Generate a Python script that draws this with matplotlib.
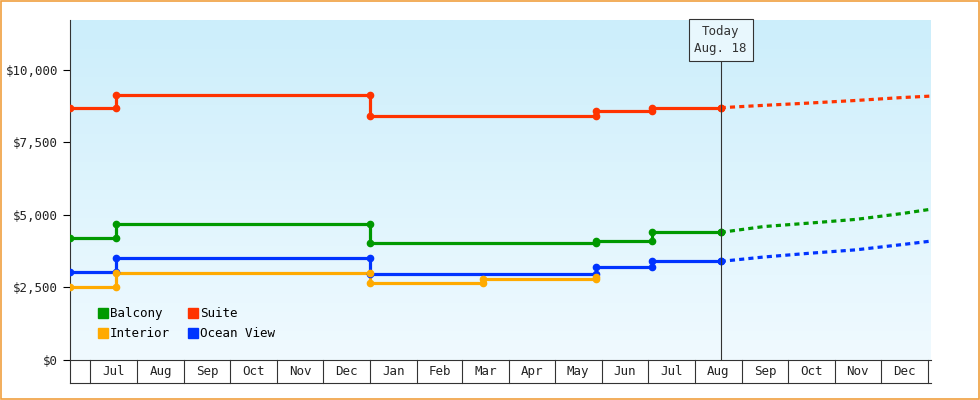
import matplotlib
matplotlib.use("Agg")
import matplotlib.pyplot as plt
import matplotlib.dates as mdates
import numpy as np

# step change dates (actual) and values
step_dates = ["2023-06-18", "2023-07-18", "2024-01-01", "2024-05-28", "2024-07-04", "2024-08-18"]
suite    = [8700, 9150, 8420, 8600, 8700, 8700]
balcony  = [4200, 4700, 4020, 4120, 4400, 4400]
ocean    = [3050, 3500, 2950, 3200, 3400, 3400]
interior_dates = ["2023-06-18", "2023-07-18", "2024-01-01", "2024-03-15", "2024-05-28"]
interior = [2500, 3000, 2650, 2800, 2850]
# forecast
fc_dates = ["2024-08-18", "2024-09-15", "2024-10-15", "2024-11-15", "2024-12-15", "2025-01-03"]
suite_fc   = [8700, 8780, 8860, 8950, 9050, 9100]
balcony_fc = [4400, 4600, 4720, 4850, 5050, 5200]
ocean_fc   = [3400, 3550, 3680, 3800, 3980, 4100]
month_labels = ["Jul","Aug","Sep","Oct","Nov","Dec","Jan","Feb","Mar","Apr","May","Jun","Jul","Aug","Sep","Oct","Nov","Dec"]
today = "2024-08-18"

colors = {"Suite": "#ff3300", "Balcony": "#009900", "Ocean View": "#0033ff", "Interior": "#ffaa00"}
mono = "DejaVu Sans Mono"
fs = 9

def d(s): return mdates.date2num(np.datetime64(s))

fig = plt.figure(figsize=(9.8, 4.0), dpi=100)
fig.patch.set_facecolor("white")
border = plt.Rectangle((0.001, 0.002), 0.998, 0.996, transform=fig.transFigure, fill=False, edgecolor="#f0a040", lw=1.2)
fig.add_artist(border)
ax = fig.add_axes([70/980, 40/400, 861/980, 340/400])
x0, x1 = d("2023-06-18"), d("2025-01-03")
ymax = 11724
ax.set_xlim(x0, x1); ax.set_ylim(0, ymax)
grad = np.linspace(0, 1, 256).reshape(-1, 1)
from matplotlib.colors import LinearSegmentedColormap
cm = LinearSegmentedColormap.from_list("g", ["#f0faff", "#cceefb"])
ax.imshow(grad, extent=[x0, x1, 0, ymax], origin="lower", aspect="auto", cmap=cm, zorder=0)

def steps(dates, vals, c):
    xs = [d(s) for s in dates]
    for i in range(len(xs) - 1):
        ax.plot([xs[i], xs[i+1]], [vals[i], vals[i]], color=c, lw=2.3, zorder=3)
        ax.plot([xs[i], xs[i+1]], [vals[i], vals[i]], "o", color=c, ms=4.5, zorder=4)
        ax.plot([xs[i+1], xs[i+1]], [vals[i], vals[i+1]], color=c, lw=2.3, zorder=3)
    ax.plot(xs[-1], vals[-1], "o", color=c, ms=4.5, zorder=4)

steps(step_dates, suite, colors["Suite"])
steps(step_dates, balcony, colors["Balcony"])
steps(step_dates, ocean, colors["Ocean View"])
steps(interior_dates, interior, colors["Interior"])
for v, k in [(suite_fc, "Suite"), (balcony_fc, "Balcony"), (ocean_fc, "Ocean View")]:
    ax.plot([d(s) for s in fc_dates], v, color=colors[k], lw=2.3, ls=(0, (1.6, 1.3)), zorder=3)

ax.axvline(d(today), color="#333333", lw=0.8, zorder=5)
ax.text(d(today), ymax * 0.985, "Today\nAug. 18", ha="center", va="top", family=mono, fontsize=fs,
        color="#333333", bbox=dict(boxstyle="square,pad=0.45", fc="#e8f7fd", ec="#333333", lw=0.8),
        linespacing=1.4, zorder=6)

yt = [0, 2500, 5000, 7500, 10000]
ax.set_yticks(yt)
ax.set_yticklabels(["$0", "$2,500", "$5,000", "$7,500", "$10,000"], family=mono, fontsize=fs, color="#222222")
ax.tick_params(axis="y", length=5, width=0.8)
ax.set_xticks([])
for s in ["top", "right"]:
    ax.spines[s].set_visible(False)
ax.spines["bottom"].set_color("#333333")
ax.spines["left"].set_color("#333333")

starts = [d(f"{y}-{m:02d}-01") for y, m in [(2023, 7), (2023, 8), (2023, 9), (2023, 10), (2023, 11), (2023, 12),
          (2024, 1), (2024, 2), (2024, 3), (2024, 4), (2024, 5), (2024, 6), (2024, 7), (2024, 8), (2024, 9),
          (2024, 10), (2024, 11), (2024, 12), (2025, 1)]]
trans = ax.get_xaxis_transform()
for s in starts + [x0]:
    ax.plot([s, s], [0, -0.068], color="#333333", lw=0.8, transform=trans, clip_on=False)
ax.plot([x0, x1], [-0.068, -0.068], color="#333333", lw=0.8, transform=trans, clip_on=False)
for i, lab in enumerate(month_labels):
    ax.text((starts[i] + starts[i+1]) / 2, -0.034, lab, ha="center", va="center", family=mono,
            fontsize=fs, color="#222222", transform=trans)

from matplotlib.lines import Line2D
handles = [Line2D([], [], marker="s", ls="", color=colors[k], ms=7) for k in ["Balcony", "Interior", "Suite", "Ocean View"]]
ax.legend(handles, ["Balcony", "Interior", "Suite", "Ocean View"], ncol=2, loc="lower left",
          bbox_to_anchor=(0.02, 0.025), frameon=False, prop={"family": mono, "size": fs},
          handletextpad=0.1, columnspacing=1.5, labelspacing=0.55, handlelength=0.8)
fig.savefig("out.png", dpi=100)
